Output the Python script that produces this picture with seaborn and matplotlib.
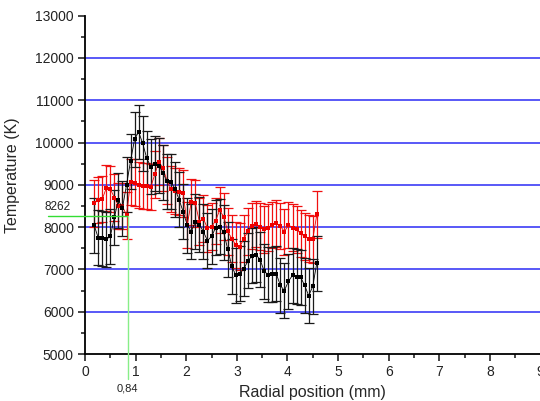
import numpy as np
import matplotlib
matplotlib.use('Agg')
import matplotlib.pyplot as plt
from matplotlib.ticker import MultipleLocator
import seaborn as sns

# radial positions (mm), same grid for both series
radius = [0.18, 0.26, 0.34, 0.42, 0.50, 0.58, 0.66, 0.74, 0.82, 0.90,
          0.98, 1.06, 1.14, 1.22, 1.30, 1.38, 1.46, 1.54, 1.62, 1.70,
          1.78, 1.86, 1.94, 2.02, 2.10, 2.18, 2.26, 2.34, 2.42, 2.50,
          2.58, 2.66, 2.74, 2.82, 2.90, 2.98, 3.06, 3.14, 3.22, 3.30,
          3.38, 3.46, 3.54, 3.62, 3.70, 3.78, 3.86, 3.94, 4.02, 4.10,
          4.18, 4.26, 4.34, 4.42, 4.50, 4.58]

temp_black = [8050, 7750, 7740, 7710, 7780, 8230, 8640, 8450, 9000, 9560,
              10080, 10250, 9980, 9630, 9430, 9500, 9450, 9290, 9080, 9070,
              8900, 8650, 8360, 8050, 7890, 8130, 8060, 7890, 7680, 7780,
              7980, 8010, 7880, 7480, 7080, 6860, 6900, 7020, 7200, 7320,
              7350, 7230, 6960, 6870, 6880, 6900, 6620, 6500, 6720, 6860,
              6830, 6820, 6620, 6380, 6600, 7150]

temp_red = [8560, 8640, 8660, 8920, 8900, 8700, 8500, 8500, 8280, 9070,
            9050, 9000, 8970, 8970, 8950, 9250, 9550, 9400, 9100, 8900,
            8850, 8840, 8800, 8050, 8600, 8560, 8130, 8200, 7970, 8010,
            8150, 8400, 8250, 7900, 7730, 7580, 7540, 7730, 7900, 8030,
            8070, 8010, 7950, 7990, 8050, 8090, 8030, 7890, 8050, 7990,
            7950, 7850, 7780, 7730, 7710, 8300]

err_black = 650
err_red = 550

grid_levels = [6000, 7000, 8000, 9000, 10000, 11000, 12000]

# marked point
mark_x = 0.84
mark_t = 8262

sns.set_style('ticks')
plt.rcParams['font.family'] = ['Liberation Sans', 'DejaVu Sans']

fig = plt.figure(figsize=(5.4, 4.01), dpi=100)
ax = fig.add_axes([85 / 540, 47 / 401, 455.5 / 540, 338.3 / 401])

for lvl in grid_levels:
    ax.axhline(lvl, color='#2b2bf5', lw=1.1, zorder=1)

# error bars
ax.errorbar(radius, temp_red, yerr=err_red, fmt='none', ecolor='#f01010',
            elinewidth=0.9, capsize=3.5, capthick=0.9, zorder=2)
ax.errorbar(radius, temp_black, yerr=err_black, fmt='none', ecolor='#1a1a1a',
            elinewidth=0.9, capsize=3.5, capthick=0.9, zorder=2.1)

sns.lineplot(x=radius, y=temp_red, ax=ax, color='#ee0000', marker='s',
             markersize=3.4, markeredgewidth=0, linewidth=0.6, sort=False, zorder=3)
sns.lineplot(x=radius, y=temp_black, ax=ax, color='black', marker='s',
             markersize=3.4, markeredgewidth=0, linewidth=0.6, sort=False, zorder=3.1)

# green marker lines
ax.plot([-0.73, mark_x], [mark_t, mark_t], color='#33dd33', lw=1.0,
        clip_on=False, zorder=4)
ax.plot([mark_x, mark_x], [mark_t, 4410], color='#88ee88', lw=1.0,
        clip_on=False, zorder=4)
ax.text(-0.55, 8470, str(mark_t), fontsize=8.5, ha='center', va='center',
        color='#222222', clip_on=False)
ax.text(mark_x, 4190, f'{mark_x:.2f}'.replace('.', ','), fontsize=8,
        ha='center', va='center', color='#222222', clip_on=False)

ax.set_xlim(0, 9)
ax.set_ylim(5000, 13000)
ax.set_xticks(range(0, 10))
ax.set_yticks(range(5000, 13001, 1000))
ax.xaxis.set_minor_locator(MultipleLocator(0.5))
ax.yaxis.set_minor_locator(MultipleLocator(500))

ax.tick_params(which='major', direction='out', length=5, width=1.2,
               labelsize=10, labelcolor='#222222', pad=3)
ax.tick_params(which='minor', direction='out', length=3, width=1.2)

for side in ['top', 'right']:
    ax.spines[side].set_visible(False)
for side in ['left', 'bottom']:
    ax.spines[side].set_linewidth(1.3)
    ax.spines[side].set_color('black')

ax.set_xlabel('Radial position (mm)', fontsize=11.5)
ax.set_ylabel('Temperature (K)', fontsize=11.5)
ax.xaxis.set_label_coords(0.5, -0.093)
ax.yaxis.set_label_coords(-0.143, 0.53)

fig.savefig('out.png', dpi=100)
